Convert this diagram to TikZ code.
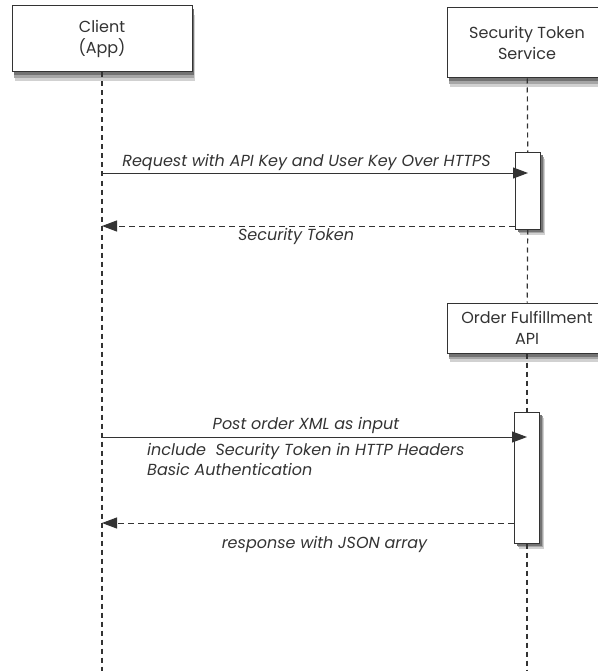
\documentclass[tikz,border=0pt]{standalone}
\usepackage{fontspec}
\setmainfont{Poppins}
\usetikzlibrary{shadows,arrows.meta}

\definecolor{ink}{HTML}{333333}

\tikzset{
  actor/.style={draw=ink, fill=white, line width=1pt, align=center, text=ink,
    font=\fontsize{16}{21}\selectfont,
    general shadow={fill=black!18, shadow xshift=3pt, shadow yshift=-9pt},
    general shadow={fill=black!35, shadow xshift=2pt, shadow yshift=-6pt},
    general shadow={fill=black!55, shadow xshift=1.5pt, shadow yshift=-3.5pt}},
  activation/.style={draw=ink, fill=white, line width=1pt, minimum width=25pt,
    general shadow={fill=black!18, shadow xshift=4pt, shadow yshift=-6pt},
    general shadow={fill=black!35, shadow xshift=3pt, shadow yshift=-4pt},
    general shadow={fill=black!55, shadow xshift=2pt, shadow yshift=-2.5pt}},
  lifeline/.style={draw=ink, line width=1.2pt, dash pattern=on 5pt off 4pt},
  msg/.style={draw=ink, line width=1pt, -{Triangle[length=15pt,width=11pt]}},
  reply/.style={msg, dash pattern=on 6pt off 4pt},
  msglabel/.style={text=ink, font=\fontsize{16}{20}\selectfont\itshape, inner sep=1pt}
}

\begin{document}
\begin{tikzpicture}[x=1pt, y=-1pt]
  \useasboundingbox (0,0) rectangle (597,671);

  % lifeline ends
  \coordinate (clientEnd) at (102,671);
  \coordinate (stsEnd) at (527,671);

  % activation boxes
  \node[activation, minimum height=76pt] (act1) at (528,191) {};
  \node[activation, minimum height=131pt] (act2) at (527,477.5) {};

  % participants
  \node[actor, minimum width=180pt, minimum height=66pt] (client) at (102,39) {Client\\(App)};
  \node[actor, minimum width=160pt, minimum height=70pt] (sts) at (527,43) {Security Token\\Service};
  \node[actor, minimum width=160pt, minimum height=50pt] (ofa) at (527,328) {Order Fulfillment\\API};

  \draw[lifeline] (client) -- (clientEnd);
  \draw[lifeline] (sts) -- (act1);
  \draw[lifeline] (act1) -- (ofa);
  \draw[lifeline] (ofa) -- (act2);
  \draw[lifeline] (act2) -- (stsEnd);

  % token request
  \coordinate (m1) at (102,173);
  \coordinate (r1) at (102,226);
  \draw[msg] (m1) -- (m1 -| act1)
    node[msglabel, pos=0.48, above=1pt] {Request with API Key and User Key Over HTTPS};
  \draw[reply] (r1 -| act1.west) -- (r1)
    node[msglabel, pos=0.53, below=1pt] {Security Token};

  % order post
  \coordinate (m2) at (102,437);
  \coordinate (r2) at (102,523);
  \draw[msg] (m2) -- (m2 -| act2)
    node[msglabel, pos=0.48, above=2pt] {Post order XML as input};
  \node[msglabel, anchor=north west, align=left] (hdr) at (146,442)
    {include~ Security Token in HTTP Headers\\Basic Authentication};
  \draw[reply] (r2 -| act2.west) -- (r2)
    node[msglabel, pos=0.46, below=12pt] {response with JSON array};
\end{tikzpicture}
\end{document}
